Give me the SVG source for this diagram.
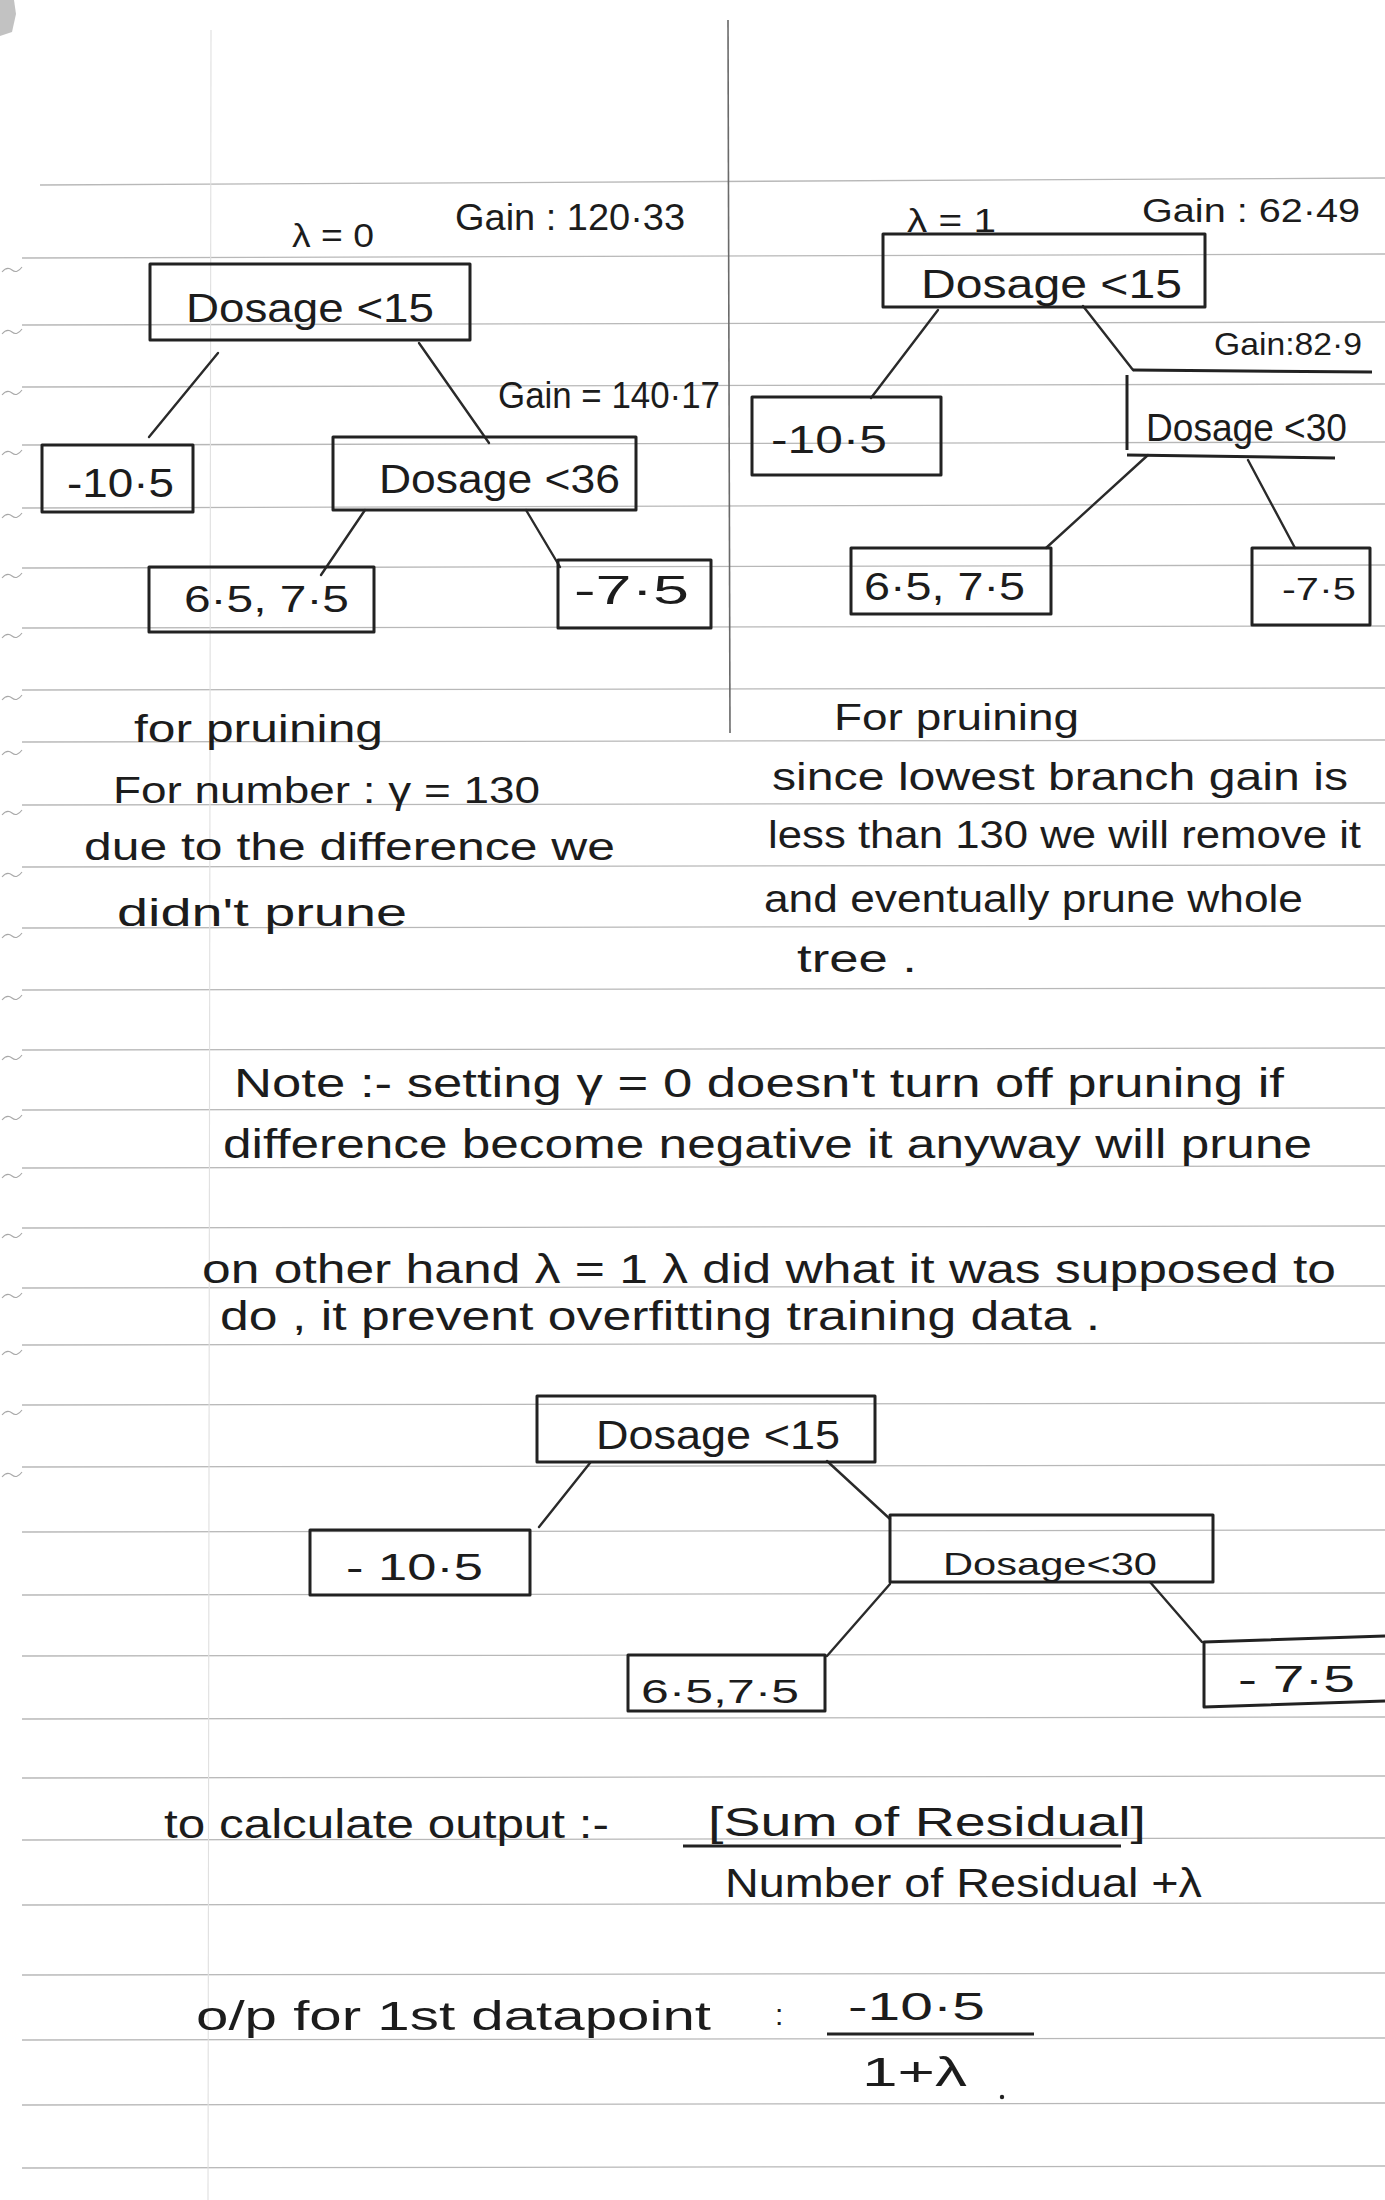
<svg xmlns="http://www.w3.org/2000/svg" width="1385" height="2200" viewBox="0 0 1385 2200">
<style>
.bg{fill:#ffffff}
.rule{stroke:#b8b8b8;stroke-width:1.3;fill:none}
.margin{stroke:#e0e0e0;stroke-width:1.1;fill:none}
.divider{stroke:#6a6a6a;stroke-width:1.6;fill:none}
.tilde{stroke:#a8a8a8;stroke-width:1.1;fill:none}
.box{fill:none;stroke:#222;stroke-width:3;stroke-linejoin:round}
.edge{stroke:#2a2a2a;stroke-width:2.4;fill:none;stroke-linecap:round}
.frac{stroke:#222;stroke-width:3;fill:none}
text{font-family:"Liberation Sans","DejaVu Sans",sans-serif;fill:#1c1c1c}
</style>
<rect class="bg" x="0" y="0" width="1385" height="2200"/>
<path d="M0 0 L14 0 L16 14 L12 32 L0 36 Z" fill="#a8a8a8" opacity="0.7"/>
<g id="page-lines">
<line class="rule" x1="40" y1="185" x2="1385" y2="178"/>
<line class="rule" x1="22" y1="258" x2="1385" y2="254"/>
<line class="rule" x1="22" y1="325" x2="1385" y2="322"/>
<line class="rule" x1="22" y1="387" x2="1385" y2="384"/>
<line class="rule" x1="22" y1="445" x2="1385" y2="442"/>
<line class="rule" x1="22" y1="508" x2="1385" y2="504"/>
<line class="rule" x1="22" y1="568" x2="1385" y2="565"/>
<line class="rule" x1="22" y1="628" x2="1385" y2="626"/>
<line class="rule" x1="22" y1="690" x2="1385" y2="688"/>
<line class="rule" x1="22" y1="742" x2="1385" y2="740"/>
<line class="rule" x1="22" y1="805" x2="1385" y2="803"/>
<line class="rule" x1="22" y1="867" x2="1385" y2="865"/>
<line class="rule" x1="22" y1="928" x2="1385" y2="926"/>
<line class="rule" x1="22" y1="990" x2="1385" y2="988"/>
<line class="rule" x1="22" y1="1050" x2="1385" y2="1048"/>
<line class="rule" x1="22" y1="1110" x2="1385" y2="1108"/>
<line class="rule" x1="22" y1="1168" x2="1385" y2="1166"/>
<line class="rule" x1="22" y1="1228" x2="1385" y2="1226"/>
<line class="rule" x1="22" y1="1288" x2="1385" y2="1286"/>
<line class="rule" x1="22" y1="1345" x2="1385" y2="1343"/>
<line class="rule" x1="22" y1="1405" x2="1385" y2="1403"/>
<line class="rule" x1="22" y1="1467" x2="1385" y2="1465"/>
<line class="rule" x1="22" y1="1532" x2="1385" y2="1530"/>
<line class="rule" x1="22" y1="1595" x2="1385" y2="1593"/>
<line class="rule" x1="22" y1="1656" x2="1385" y2="1654"/>
<line class="rule" x1="22" y1="1719" x2="1385" y2="1717"/>
<line class="rule" x1="22" y1="1778" x2="1385" y2="1776"/>
<line class="rule" x1="22" y1="1840" x2="1385" y2="1838"/>
<line class="rule" x1="22" y1="1905" x2="1385" y2="1903"/>
<line class="rule" x1="22" y1="1975" x2="1385" y2="1973"/>
<line class="rule" x1="22" y1="2040" x2="1385" y2="2038"/>
<line class="rule" x1="22" y1="2105" x2="1385" y2="2103"/>
<line class="rule" x1="22" y1="2168" x2="1385" y2="2166"/>
<line class="margin" x1="211" y1="30" x2="208" y2="2200"/>
<line class="divider" x1="728" y1="20" x2="730" y2="733"/>
</g>
<g id="margin-marks">
<path class="tilde" d="M2 272 q5 -6 10 -2 t10 -3"/>
<path class="tilde" d="M2 334 q5 -6 10 -2 t10 -3"/>
<path class="tilde" d="M2 395 q5 -6 10 -2 t10 -3"/>
<path class="tilde" d="M2 455 q5 -6 10 -2 t10 -3"/>
<path class="tilde" d="M2 518 q5 -6 10 -2 t10 -3"/>
<path class="tilde" d="M2 578 q5 -6 10 -2 t10 -3"/>
<path class="tilde" d="M2 638 q5 -6 10 -2 t10 -3"/>
<path class="tilde" d="M2 700 q5 -6 10 -2 t10 -3"/>
<path class="tilde" d="M2 755 q5 -6 10 -2 t10 -3"/>
<path class="tilde" d="M2 815 q5 -6 10 -2 t10 -3"/>
<path class="tilde" d="M2 877 q5 -6 10 -2 t10 -3"/>
<path class="tilde" d="M2 938 q5 -6 10 -2 t10 -3"/>
<path class="tilde" d="M2 1000 q5 -6 10 -2 t10 -3"/>
<path class="tilde" d="M2 1060 q5 -6 10 -2 t10 -3"/>
<path class="tilde" d="M2 1120 q5 -6 10 -2 t10 -3"/>
<path class="tilde" d="M2 1178 q5 -6 10 -2 t10 -3"/>
<path class="tilde" d="M2 1238 q5 -6 10 -2 t10 -3"/>
<path class="tilde" d="M2 1298 q5 -6 10 -2 t10 -3"/>
<path class="tilde" d="M2 1355 q5 -6 10 -2 t10 -3"/>
<path class="tilde" d="M2 1415 q5 -6 10 -2 t10 -3"/>
<path class="tilde" d="M2 1477 q5 -6 10 -2 t10 -3"/>
</g>

<g id="connectors">
<line class="edge" x1="218" y1="353" x2="149" y2="437"/>
<line class="edge" x1="419" y1="343" x2="489" y2="443"/>
<line class="edge" x1="365" y1="510" x2="321" y2="575"/>
<line class="edge" x1="526" y1="510" x2="560" y2="567"/>
<line class="edge" x1="938" y1="310" x2="871" y2="398"/>
<line class="edge" x1="1083" y1="306" x2="1133" y2="370"/>
<line class="edge" x1="1148" y1="455" x2="1046" y2="548"/>
<line class="edge" x1="1248" y1="460" x2="1295" y2="548"/>
<line class="edge" x1="590" y1="1463" x2="539" y2="1527"/>
<line class="edge" x1="827" y1="1461" x2="890" y2="1519"/>
<line class="edge" x1="890" y1="1584" x2="827" y2="1656"/>
<line class="edge" x1="1150" y1="1582" x2="1202" y2="1642"/>
</g>

<g id="label-lambda0"><text x="292" y="247" font-size="34" textLength="82" lengthAdjust="spacingAndGlyphs">λ = 0</text></g>
<g id="label-gain-120"><text x="455" y="230" font-size="36" textLength="230" lengthAdjust="spacingAndGlyphs">Gain : 120·33</text></g>
<g id="node-a-dosage15">
<rect class="box" x="150" y="264" width="320" height="76"/>
<text x="186" y="322" font-size="40" textLength="248" lengthAdjust="spacingAndGlyphs">Dosage &lt;15</text>
</g>
<g id="node-b-m105">
<rect class="box" x="42" y="445" width="151" height="67"/>
<text x="67" y="497" font-size="40" textLength="107" lengthAdjust="spacingAndGlyphs">-10·5</text>
</g>
<g id="label-gain-140"><text x="498" y="408" font-size="36" textLength="222" lengthAdjust="spacingAndGlyphs">Gain = 140·17</text></g>
<g id="node-c-dosage36">
<rect class="box" x="333" y="437" width="303" height="73"/>
<text x="379" y="493" font-size="40" textLength="241" lengthAdjust="spacingAndGlyphs">Dosage &lt;36</text>
</g>
<g id="node-d-65-75">
<rect class="box" x="149" y="567" width="225" height="65"/>
<text x="184" y="612" font-size="36" textLength="165" lengthAdjust="spacingAndGlyphs">6·5, 7·5</text>
</g>
<g id="node-e-m75">
<rect class="box" x="558" y="560" width="153" height="68"/>
<text x="574" y="604" font-size="40" textLength="115" lengthAdjust="spacingAndGlyphs">-7·5</text>
</g>

<g id="label-lambda1"><text x="907" y="232" font-size="34" textLength="89" lengthAdjust="spacingAndGlyphs">λ = 1</text></g>
<g id="label-gain-62"><text x="1142" y="222" font-size="34" textLength="218" lengthAdjust="spacingAndGlyphs">Gain : 62·49</text></g>
<g id="node-f-dosage15">
<rect class="box" x="883" y="234" width="322" height="73"/>
<text x="921" y="298" font-size="40" textLength="261" lengthAdjust="spacingAndGlyphs">Dosage &lt;15</text>
</g>
<g id="label-gain-82"><text x="1214" y="355" font-size="32" textLength="148" lengthAdjust="spacingAndGlyphs">Gain:82·9</text></g>
<g id="node-g-dosage30">
<path class="box" d="M1372 372 L1133 370 M1127 375 L1127 450 M1127 455 L1335 458"/>
<text x="1146" y="441" font-size="38" textLength="201" lengthAdjust="spacingAndGlyphs">Dosage &lt;30</text>
</g>
<g id="node-h-m105">
<rect class="box" x="752" y="397" width="189" height="78"/>
<text x="771" y="453" font-size="38" textLength="116" lengthAdjust="spacingAndGlyphs">-10·5</text>
</g>
<g id="node-i-65-75">
<rect class="box" x="851" y="548" width="200" height="66"/>
<text x="864" y="600" font-size="38" textLength="161" lengthAdjust="spacingAndGlyphs">6·5, 7·5</text>
</g>
<g id="node-j-m75">
<rect class="box" x="1252" y="548" width="118" height="77"/>
<text x="1282" y="600" font-size="32" textLength="74" lengthAdjust="spacingAndGlyphs">-7·5</text>
</g>

<g id="notes-left">
<text x="134" y="742" font-size="38" textLength="249" lengthAdjust="spacingAndGlyphs">for pruining</text>
<text x="113" y="803" font-size="36" textLength="427" lengthAdjust="spacingAndGlyphs">For number : γ = 130</text>
<text x="84" y="860" font-size="38" textLength="531" lengthAdjust="spacingAndGlyphs">due to the difference we</text>
<text x="117" y="926" font-size="38" textLength="290" lengthAdjust="spacingAndGlyphs">didn't prune</text>
</g>
<g id="notes-right">
<text x="834" y="730" font-size="36" textLength="245" lengthAdjust="spacingAndGlyphs">For pruining</text>
<text x="772" y="790" font-size="38" textLength="576" lengthAdjust="spacingAndGlyphs">since lowest branch gain is</text>
<text x="768" y="848" font-size="38" textLength="593" lengthAdjust="spacingAndGlyphs">less than 130 we will remove it</text>
<text x="764" y="912" font-size="38" textLength="539" lengthAdjust="spacingAndGlyphs">and eventually prune whole</text>
<text x="797" y="972" font-size="38" textLength="120" lengthAdjust="spacingAndGlyphs">tree .</text>
</g>
<g id="note-main">
<text x="234" y="1097" font-size="40" textLength="1050" lengthAdjust="spacingAndGlyphs">Note :- setting γ = 0 doesn't turn off pruning if</text>
<text x="223" y="1158" font-size="40" textLength="1089" lengthAdjust="spacingAndGlyphs">difference become negative it anyway will prune</text>
<text x="202" y="1283" font-size="40" textLength="1134" lengthAdjust="spacingAndGlyphs">on other hand λ = 1   λ did what it was supposed to</text>
<text x="220" y="1330" font-size="40" textLength="880" lengthAdjust="spacingAndGlyphs">do , it prevent overfitting training data .</text>
</g>

<g id="node-k-dosage15">
<rect class="box" x="537" y="1396" width="338" height="66"/>
<text x="596" y="1449" font-size="40" textLength="244" lengthAdjust="spacingAndGlyphs">Dosage &lt;15</text>
</g>
<g id="node-l-m105">
<rect class="box" x="310" y="1530" width="220" height="65"/>
<text x="346" y="1580" font-size="36" textLength="137" lengthAdjust="spacingAndGlyphs">- 10·5</text>
</g>
<g id="node-m-dosage30">
<rect class="box" x="890" y="1515" width="323" height="67"/>
<text x="943" y="1575" font-size="32" textLength="214" lengthAdjust="spacingAndGlyphs">Dosage&lt;30</text>
</g>
<g id="node-n-65-75">
<rect class="box" x="628" y="1655" width="197" height="56"/>
<text x="641" y="1703" font-size="34" textLength="158" lengthAdjust="spacingAndGlyphs">6·5,7·5</text>
</g>
<g id="node-o-m75">
<path class="box" d="M1385 1636 L1204 1642 L1204 1707 L1385 1701"/>
<text x="1238" y="1692" font-size="36" textLength="117" lengthAdjust="spacingAndGlyphs">- 7·5</text>
</g>

<g id="formula">
<text x="164" y="1838" font-size="40" textLength="445" lengthAdjust="spacingAndGlyphs">to calculate output :-</text>
<text x="708" y="1836" font-size="40" textLength="438" lengthAdjust="spacingAndGlyphs">[Sum of Residual]</text>
<line class="frac" x1="683" y1="1846" x2="1121" y2="1846"/>
<text x="725" y="1897" font-size="40" textLength="477" lengthAdjust="spacingAndGlyphs">Number of Residual +λ</text>
<text x="196" y="2030" font-size="40" textLength="515" lengthAdjust="spacingAndGlyphs">o/p for 1st datapoint</text>
<text x="775" y="2025" font-size="30">:</text>
<text x="848" y="2020" font-size="38" textLength="137" lengthAdjust="spacingAndGlyphs">-10·5</text>
<line class="frac" x1="827" y1="2034" x2="1034" y2="2034"/>
<text x="862" y="2086" font-size="40" textLength="105" lengthAdjust="spacingAndGlyphs">1+λ</text>
<circle cx="1002" cy="2097" r="2.2" fill="#222"/>
</g>
</svg>
